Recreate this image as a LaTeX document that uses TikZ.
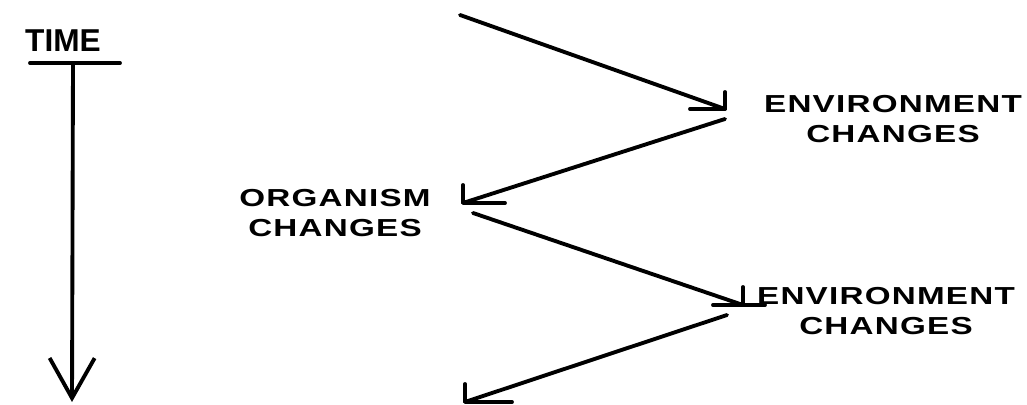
\documentclass[tikz,border=0pt]{standalone}
\usepackage{fontspec}
\newfontfamily\handfont{Liberation Sans}[UprightFont=* Bold, FakeStretch=1.35, LetterSpace=5]
\newfontfamily\timefont{Liberation Sans}[UprightFont=* Bold]
\usetikzlibrary{arrows.meta}

\tikzset{
  pen/.style={line width=2.2pt, line cap=round, line join=round},
  lettering/.style={font=\handfont\fontsize{14}{17}\selectfont, align=center, inner sep=0pt},
}

\begin{document}
\begin{tikzpicture}[x=0.2mm, y=0.2mm]
    \useasboundingbox (0,0) rectangle (1027,405);

    % --- Time axis ---
    \node[font=\timefont\fontsize{18}{20}\selectfont, inner sep=0pt] (time) at (63,364) {TIME};
    \coordinate (t0) at (73,342);
    \coordinate (t1) at (72,3);
    \draw[pen] (30,342) -- (120,342);
    \draw[pen, -{Straight Barb[length=8mm, width=9mm]}] (t0) -- (t1);

    % --- Labels ---
    \node[lettering] (env1) at (893,286) {ENVIRONMENT\\CHANGES};
    \node[lettering] (org) at (335,192) {ORGANISM\\CHANGES};
    \node[lettering] (env2) at (886,94) {ENVIRONMENT\\CHANGES};

    % --- Zigzag ---
    \coordinate (a0) at (460,390);
    \coordinate (e1in) at (725,296);
    \coordinate (e1out) at (725,286);
    \coordinate (o1in) at (463,202);
    \coordinate (o1out) at (473,192);
    \coordinate (e2in) at (743,100);
    \coordinate (e2out) at (727,90);
    \coordinate (a1) at (465,3);

    \draw[pen] (a0) -- (e1in);
    \draw[pen] ([xshift=-7mm]e1in) -- (e1in) -- ([yshift=3.4mm]e1in);
    \draw[pen] (e1out) -- (o1in);
    \draw[pen] ([yshift=3.6mm]o1in) -- (o1in) -- ([xshift=8.4mm]o1in);
    \draw[pen] (o1out) -- (e2in);
    \draw[pen] ([yshift=3.6mm]e2in) -- (e2in);
    \draw[pen] ([xshift=-6mm]e2in) -- ([xshift=4.4mm]e2in);
    \draw[pen] (e2out) -- (a1);
    \draw[pen] ([yshift=3.6mm]a1) -- (a1) -- ([xshift=9.4mm]a1);

\end{tikzpicture}
\end{document}
